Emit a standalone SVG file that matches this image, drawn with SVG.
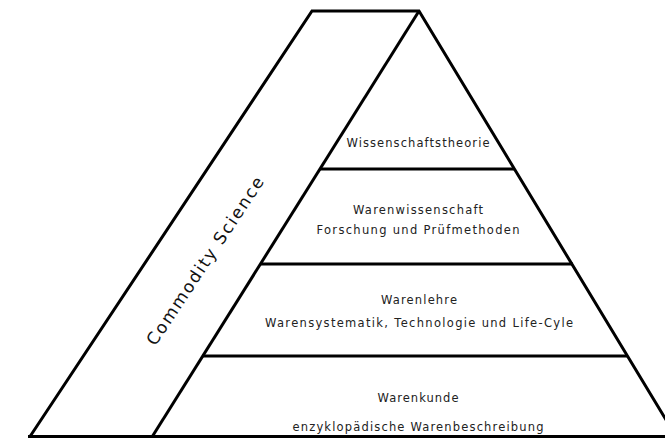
<svg xmlns="http://www.w3.org/2000/svg" width="665" height="438" viewBox="0 0 665 438">
<style>
.ln{fill:none;stroke:#000;stroke-width:3;stroke-linejoin:miter;stroke-linecap:butt}
.t{font-family:"DejaVu Sans",sans-serif;font-size:11.5px;fill:#222;text-anchor:middle}
.big{font-family:"DejaVu Sans",sans-serif;font-size:17px;fill:#111;text-anchor:middle}
</style>
<rect width="665" height="438" fill="#fff"/>
<g id="outline">
<path class="ln" d="M30,436.5 L312,11 L419,11 L680,443"/>
<line class="ln" x1="28" y1="436.5" x2="665" y2="436.5"/>
</g>
<g id="connectors">
<line class="ln" x1="419" y1="11" x2="152" y2="437"/>
<line class="ln" x1="320" y1="169" x2="515" y2="169"/>
<line class="ln" x1="260" y1="264" x2="573" y2="264"/>
<line class="ln" x1="202" y1="356" x2="628" y2="356"/>
</g>
<g id="commodity-science">
<text class="big" transform="translate(205,261) rotate(-56.5)" y="6" textLength="198" lengthAdjust="spacing">Commodity Science</text>
</g>
<g id="wissenschaftstheorie">
<text class="t" x="418" y="147" textLength="143" lengthAdjust="spacing">Wissenschaftstheorie</text>
</g>
<g id="warenwissenschaft">
<text class="t" x="418" y="214" textLength="130" lengthAdjust="spacing">Warenwissenschaft</text>
<text class="t" x="418" y="234" textLength="203" lengthAdjust="spacing">Forschung und Prüfmethoden</text>
</g>
<g id="warenlehre">
<text class="t" x="419" y="304" textLength="76" lengthAdjust="spacing">Warenlehre</text>
<text class="t" x="419" y="327" textLength="308" lengthAdjust="spacing">Warensystematik, Technologie und Life-Cyle</text>
</g>
<g id="warenkunde">
<text class="t" x="418" y="402" textLength="81" lengthAdjust="spacing">Warenkunde</text>
<text class="t" x="418" y="431" textLength="251" lengthAdjust="spacing">enzyklopädische Warenbeschreibung</text>
</g>
</svg>
